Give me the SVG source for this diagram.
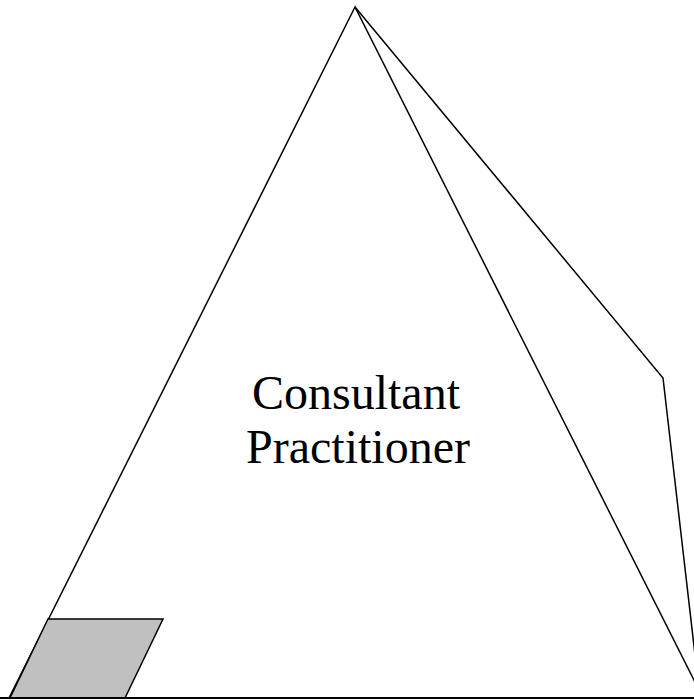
<svg xmlns="http://www.w3.org/2000/svg" width="694" height="700" viewBox="0 0 694 700">
<style>
.ln{fill:none;stroke:#000;stroke-width:1.5;stroke-linejoin:miter}
.lbl{font-family:"Liberation Serif","Times New Roman",serif;font-size:48px;fill:#000;text-anchor:middle}
</style>
<rect width="694" height="700" fill="#fff"/>
<g id="connectors">
<polyline class="ln" points="355,7 663,378 700,698"/>
</g>
<g id="pyramid">
<polygon class="ln" points="355,7 9,698 703,698"/>
<text class="lbl" x="356" y="409">Consultant</text>
<text class="lbl" x="358" y="463">Practitioner</text>
</g>
<g id="base-block">
<polygon points="48,619 163,619 125,698 10,698" fill="#c0c0c0" stroke="#000" stroke-width="1.5"/>
</g>
<line x1="0" y1="698" x2="694" y2="698" stroke="#000" stroke-width="2"/>
</svg>
